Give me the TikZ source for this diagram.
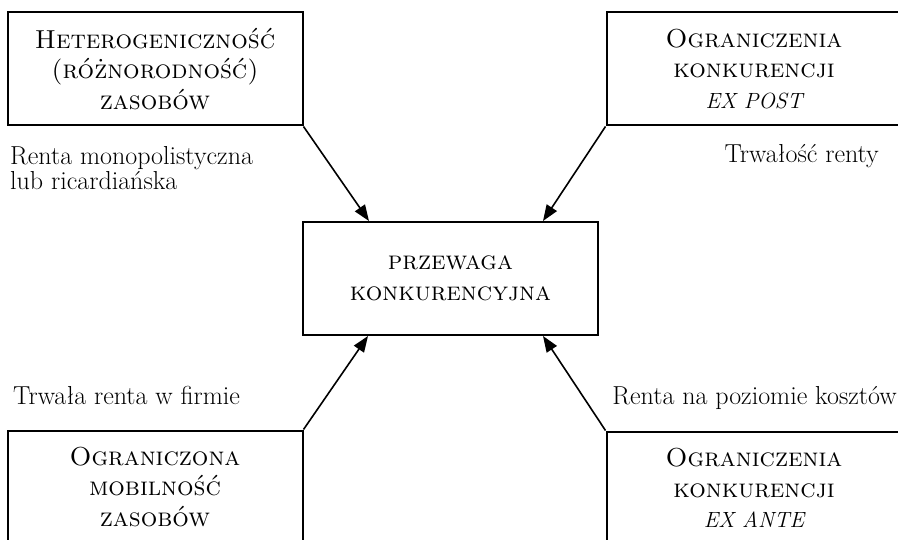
\documentclass[tikz,border=0pt]{standalone}
\usepackage{fontspec}
\usetikzlibrary{arrows.meta,calc}
\begin{document}
\begin{tikzpicture}[x=1pt,y=-1pt,
  box/.style={draw,line width=2pt,minimum width=295pt,minimum height=113pt,
    inner sep=0pt,align=center,font=\fontsize{26}{30.5}\selectfont\scshape},
  lbl/.style={inner sep=0pt,align=left,font=\fontsize{26}{24.5}\selectfont},
  arr/.style={line width=1.6pt,-{Triangle[length=16pt,width=12pt]}}]
\newcommand{\exlat}[1]{{\normalfont\itshape\fontsize{22}{30.5}\selectfont #1}}
\useasboundingbox (0,0) rectangle (898,540);
\clip (0,0) rectangle (898,540);

% four sources and the central advantage
\node[box] (het) at (155,69) {Heterogeniczność\\(różnorodność)\\zasobów};
\node[box] (post) at (754,69) {Ograniczenia\\konkurencji\\\exlat{EX POST}};
\node[box] (mob) at (155,487) {Ograniczona\\mobilność\\zasobów};
\node[box] (ante) at (754,488) {Ograniczenia\\konkurencji\\\exlat{EX ANTE}};
\node[box] (prz) at (450.5,278.5) {przewaga\\konkurencyjna};

% arrow tips on the central box
\coordinate (tnw) at ($(prz.north west)+(67,0)$);
\coordinate (tne) at ($(prz.north east)+(-56,0)$);
\coordinate (tsw) at ($(prz.south west)+(66,0)$);
\coordinate (tse) at ($(prz.south east)+(-56,0)$);

\draw[arr] (het.south east) -- (tnw);
\draw[arr] (post.south west) -- (tne);
\draw[arr] (mob.north east) -- (tsw);
\draw[arr] (ante.north west) -- (tse);

% rent labels
\node[lbl,anchor=north west] (l1) at (10,146.5) {Renta monopolistyczna\\lub ricardiańska};
\node[lbl,anchor=base east] (l2) at (879,163) {Trwałość renty};
\node[lbl,anchor=base west] (l3) at (13,405) {Trwała renta w firmie};
\node[lbl,anchor=base east] (l4) at (897,405) {Renta na poziomie kosztów};
\end{tikzpicture}
\end{document}
